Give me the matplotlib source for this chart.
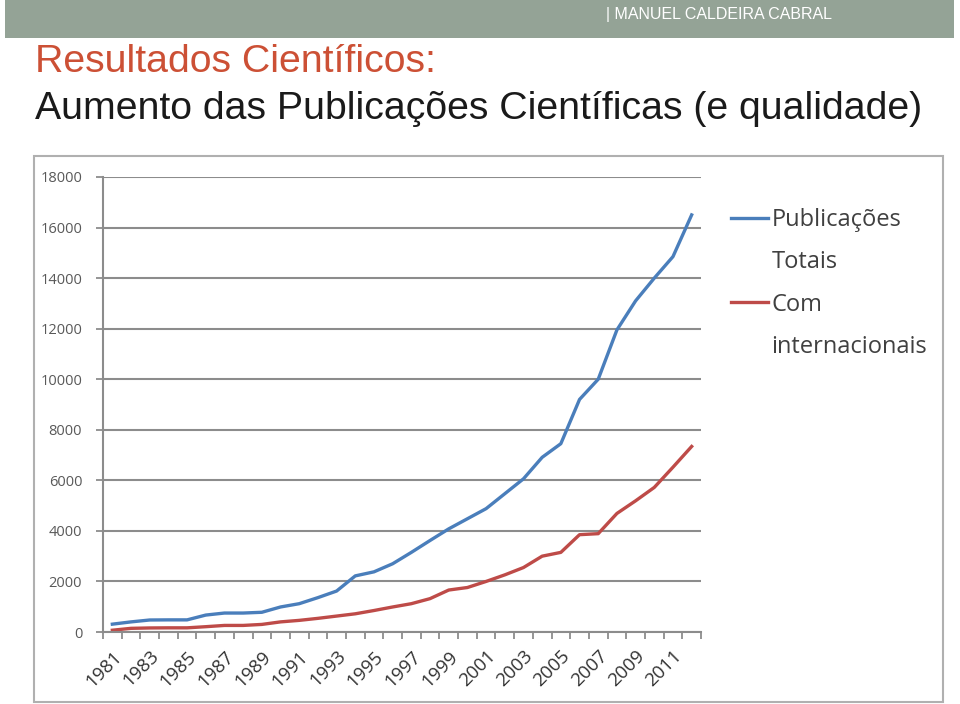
import matplotlib.pyplot as plt
import matplotlib.patches as patches
from matplotlib.lines import Line2D
from matplotlib.ticker import FixedLocator, NullFormatter

# dados
anos = list(range(1981, 2013))
totais = [310, 400, 475, 480, 480, 670, 750, 750, 780, 990,
          1120, 1360, 1620, 2220, 2380, 2700, 3150, 3620, 4080, 4480,
          4880, 5470, 6060, 6910, 7450, 9200, 10000, 11950, 13100, 14000,
          14850, 16500]
internacionais = [70, 145, 160, 165, 165, 210, 260, 260, 300, 400,
                  460, 540, 630, 720, 850, 990, 1120, 1320, 1660, 1760,
                  2000, 2260, 2550, 3000, 3150, 3850, 3890, 4690, 5190, 5720,
                  6520, 7340]
y_ticks = [0, 2000, 4000, 6000, 8000, 10000, 12000, 14000, 16000, 18000]
x_labels = [str(a) for a in anos[::2]]

titulo1 = "Resultados Científicos:"
titulo2 = "Aumento das Publicações Científicas (e qualidade)"
autor = "| MANUEL CALDEIRA CABRAL"

W, H = 960, 704
fig = plt.figure(figsize=(W / 100, H / 100), dpi=100)
fonte_titulo = ['Liberation Sans', 'DejaVu Sans']
fonte_graf = ['Open Sans', 'DejaVu Sans']

# barra cinzenta de cima
fig.patches.append(patches.Rectangle((5 / W, 1 - 38 / H), 949 / W, 38 / H,
                                     transform=fig.transFigure, facecolor='#94a396',
                                     edgecolor='none'))
fig.text(606 / W, 1 - 15 / H, autor, color='white', fontsize=11.5,
         family=fonte_titulo, va='center', ha='left')
fig.text(35 / W, 1 - 62 / H, titulo1, color='#cc5035', fontsize=28.3,
         family=fonte_titulo, va='center', ha='left')
fig.text(35 / W, 1 - 109 / H, titulo2, color='#1a1a1a', fontsize=28.3,
         family=fonte_titulo, va='center', ha='left')

# moldura da imagem do grafico
fig.patches.append(patches.Rectangle((34 / W, 1 - 702 / H), 909 / W, 546 / H,
                                     transform=fig.transFigure, facecolor='none',
                                     edgecolor='#b0b0b0', linewidth=1.5))

ax = fig.add_axes([103 / W, 1 - 632 / H, 598 / W, 455 / H])
x = list(range(len(anos)))
l1, = ax.plot(x, totais, color='#4a7ebb', linewidth=2.4)
l2, = ax.plot(x, internacionais, color='#be4b48', linewidth=2.4)

ax.set_xlim(-0.5, len(anos) - 0.5)
ax.set_ylim(0, 18000)
ax.set_yticks(y_ticks)
ax.set_yticklabels([str(v) for v in y_ticks], fontsize=10.5, color='#595959', family=fonte_graf)
ax.yaxis.grid(True, color='#8c8c8c', linewidth=1.5)
ax.set_axisbelow(True)

ax.set_xticks(x[::2])
ax.set_xticklabels(x_labels, rotation=45, ha='right', rotation_mode='anchor',
                   fontsize=13.5, color='#333333', family=fonte_graf)
ax.tick_params(axis='x', length=0, pad=11)
ax.xaxis.set_minor_locator(FixedLocator([i - 0.5 for i in range(len(anos) + 1)]))
ax.xaxis.set_minor_formatter(NullFormatter())
ax.tick_params(axis='x', which='minor', length=5, width=1.3, color='#8c8c8c', direction='out')
ax.tick_params(axis='y', length=5, width=1.3, color='#8c8c8c', pad=10)

for lado in ['top', 'right']:
    ax.spines[lado].set_visible(False)
ax.spines['left'].set_color('#8c8c8c')
ax.spines['left'].set_linewidth(1.5)
ax.spines['bottom'].set_color('#8c8c8c')
ax.spines['bottom'].set_linewidth(1.5)

# legenda: cada linha de texto numa entrada, so a primeira com traco
vazio = Line2D([], [], color='none')
leg = ax.legend([l1, vazio, l2, vazio],
                ['Publicações', 'Totais', 'Com', 'internacionais'],
                loc='upper left', bbox_to_anchor=(1.035, 0.953), frameon=False,
                prop={'family': fonte_graf, 'size': 17}, handlelength=1.55,
                handletextpad=0.15, labelspacing=0.78, labelcolor='#404040',
                borderaxespad=0)

fig.savefig('out.png', dpi=100)
